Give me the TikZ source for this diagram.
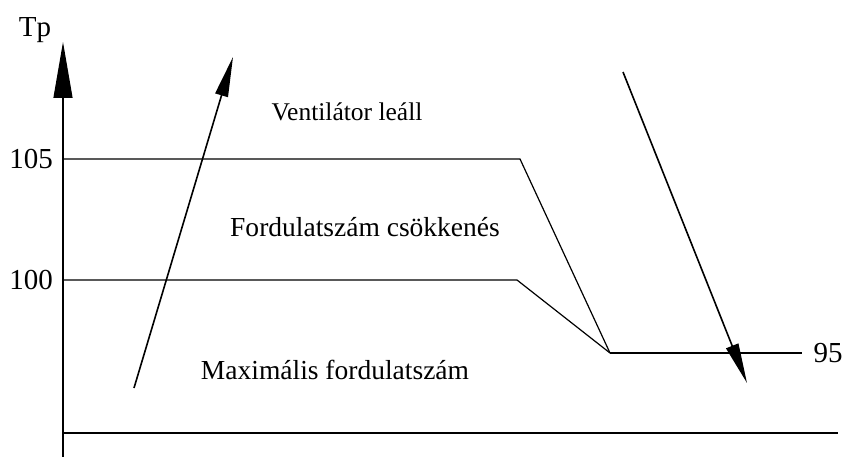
\documentclass[tikz,border=0pt]{standalone}
\usepackage{fontspec}
\setmainfont{Liberation Serif}
\usetikzlibrary{arrows.meta}

\begin{document}
\begin{tikzpicture}[x=1pt,y=-1pt,line width=1.2pt,
		lbl/.style={font=\fontsize{27.5}{32}\selectfont},
		num/.style={font=\fontsize{29}{34}\selectfont},
		axistip/.style={-{Triangle[length=56pt,width=19pt]}},
		movetip/.style={line width=1.6pt,-{Triangle[length=40pt,width=13pt]}}]
		\useasboundingbox (0,0) rectangle (845,457);

		% axes
		\coordinate (ybot) at (63,457);
		\coordinate (ytop) at (63,42);
		\coordinate (xleft) at (63,433);
		\coordinate (xright) at (838,433);
		\draw[axistip] (ybot) -- (ytop);
		\draw (xleft) -- (xright);
		\node[num] (tp) at (35,30) {Tp};

		% limits
		\coordinate (h105) at (63,159);
		\coordinate (k105) at (520,159);
		\coordinate (h100) at (63,280);
		\coordinate (k100) at (517,280);
		\coordinate (low) at (610,353);
		\coordinate (h95) at (802,353);
		\draw (h105) -- (k105) -- (low);
		\draw (h100) -- (k100) -- (low);
		\draw (low) -- (h95);
		\node[num] (n105) at (31,159) {105};
		\node[num] (n100) at (31,280) {100};
		\node[num] (n95) at (828,353) {95};

		% regions
		\node[lbl,font=\fontsize{25.5}{30}\selectfont] (stop) at (347,112) {Ventilátor leáll};
		\node[lbl] (reduce) at (365,227) {Fordulatszám csökkenés};
		\node[lbl] (full) at (335,370) {Maximális fordulatszám};

		% heating and cooling
		\coordinate (upa) at (134,388);
		\coordinate (upb) at (233,57);
		\coordinate (downa) at (623,72);
		\coordinate (downb) at (747,383);
		\draw[movetip] (upa) -- (upb);
		\draw[movetip] (downa) -- (downb);
	\end{tikzpicture}
\end{document}
